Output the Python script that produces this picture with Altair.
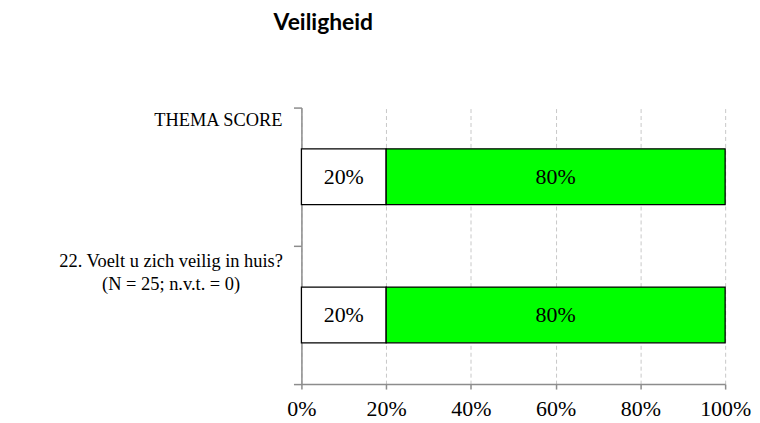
import altair as alt
import pandas as pd

categories = ["THEMA SCORE", "22. Voelt u zich veilig in huis?\n(N = 25; n.v.t. = 0)"]
series = ["Nee", "Ja"]
nee_values = [0.20, 0.20]
ja_values = [0.80, 0.80]
colors = ["#FFFFFF", "#00FF00"]
x_ticks = [0, 0.2, 0.4, 0.6, 0.8, 1.0]

rows = []
for i, c in enumerate(categories):
    for j, (s, vals) in enumerate(zip(series, [nee_values, ja_values])):
        rows.append({"cat": c, "serie": s, "order": j, "value": vals[i]})
df = pd.DataFrame(rows)
cat_df = pd.DataFrame({"cat": categories, "idx": list(range(len(categories)))})

serif = "Liberation Serif"
grey = "#8c8c8c"

y_scale = alt.Scale(domain=categories, paddingInner=0, paddingOuter=0)
x_scale = alt.Scale(domain=[0, 1], nice=False)

y_enc = alt.Y(
    "cat:N", scale=y_scale, sort=categories,
    axis=alt.Axis(title=None, labels=False, tickBand="extent", tickSize=8,
                  domainColor=grey, tickColor=grey, domainWidth=1.5,
                  tickWidth=1.5, grid=False),
)

bars = alt.Chart(df).mark_bar(size=56, stroke="black", strokeWidth=1.3).encode(
    y=y_enc,
    x=alt.X(
        "value:Q", stack="zero", scale=x_scale,
        axis=alt.Axis(title=None, format="%", values=x_ticks, grid=True,
                      gridDash=[4, 3], gridColor="#c8c8c8", gridWidth=1,
                      tickSize=5, tickColor=grey, tickWidth=1.5,
                      domainColor=grey, domainWidth=1.5,
                      labelFont=serif, labelFontSize=22, labelColor="black",
                      labelPadding=10, labelFlush=False),
    ),
    color=alt.Color("serie:N", scale=alt.Scale(domain=series, range=colors), legend=None),
    order=alt.Order("order:Q"),
)

bar_text = alt.Chart(df).transform_stack(
    stack="value", groupby=["cat"], as_=["x0", "x1"], sort=[alt.SortField("order")]
).transform_calculate(
    mid="(datum.x0 + datum.x1) / 2"
).mark_text(font=serif, fontSize=22, color="black").encode(
    y=alt.Y("cat:N", scale=y_scale, sort=categories),
    x=alt.X("mid:Q", scale=x_scale),
    text=alt.Text("value:Q", format=".0%"),
)

ylab1 = alt.Chart(cat_df).transform_filter(alt.datum.idx == 0).mark_text(
    align="right", baseline="top", font=serif, fontSize=18.5, color="black",
    x=-19, dy=-66, lineBreak="\n",
).encode(y=alt.Y("cat:N", scale=y_scale, sort=categories), text="cat:N")

ylab2 = alt.Chart(cat_df).transform_filter(alt.datum.idx == 1).mark_text(
    align="center", baseline="top", font=serif, fontSize=18.5, color="black",
    x=-131, dy=-63, lineBreak="\n", lineHeight=23,
).encode(y=alt.Y("cat:N", scale=y_scale, sort=categories), text="cat:N")

chart = alt.layer(bars, bar_text, ylab1, ylab2).properties(
    width=426,
    height=278,
    padding={"left": 295, "top": 99, "right": 27, "bottom": 38},
    autosize=alt.AutoSizeParams(type="none"),
    title=alt.TitleParams("Veiligheid", font="Lato", fontSize=23, fontWeight="bold",
                          anchor="start", frame="group", dx=-28, offset=54,
                          color="black", baseline="alphabetic"),
).configure_view(stroke=None)

chart.save("out.html", embed_options={"renderer": "svg", "actions": False})
